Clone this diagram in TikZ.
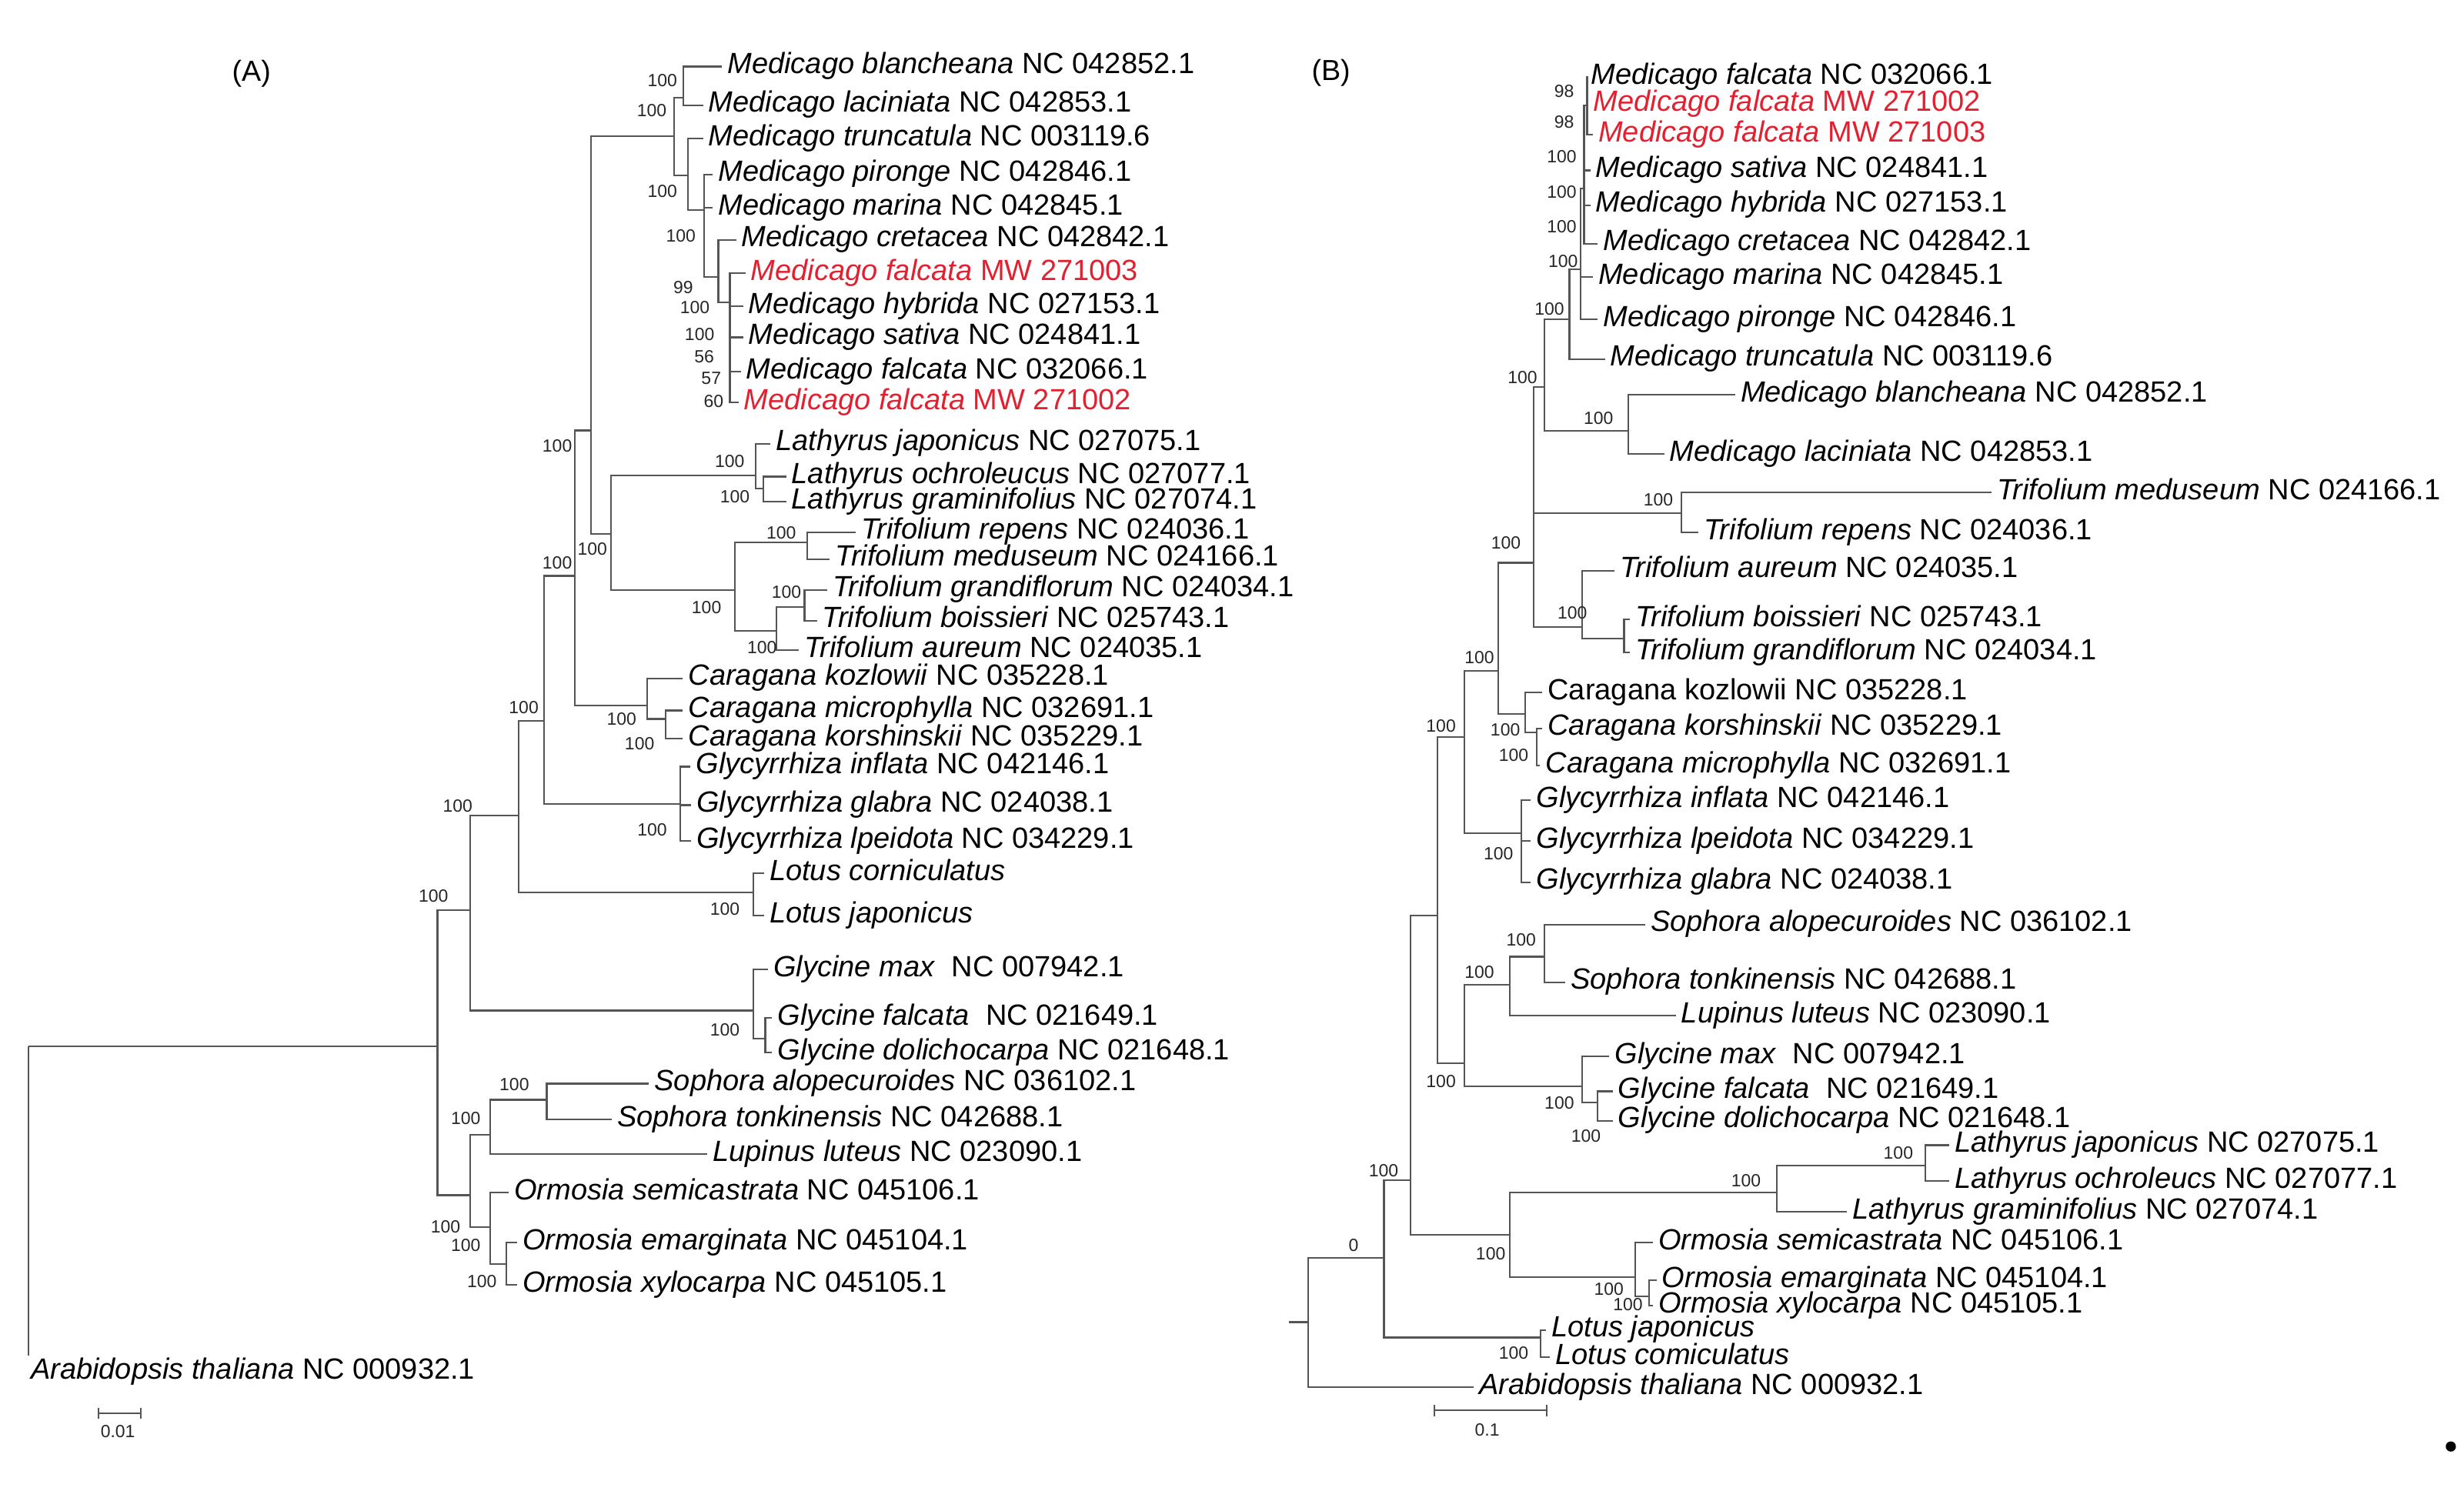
\documentclass[tikz,border=0pt]{standalone}
\usepackage{fontspec}
\setmainfont{Liberation Sans}
\usepackage{xcolor}
\usetikzlibrary{arrows.meta}
\definecolor{brgray}{RGB}{85,85,85}
\definecolor{mwred}{RGB}{226,32,48}
\newcommand{\taxon}[2]{\textit{#1} #2}
\tikzset{
  br/.style={draw=brgray, line width=0.6pt},
  leaf/.style={anchor=west, inner xsep=2pt, inner ysep=0pt, outer sep=0pt, xshift=-2pt,
    font=\fontsize{10.6}{12}\selectfont, text height=6.5pt, text depth=1.4pt},
  leafred/.style={leaf, text=mwred},
  bs/.style={inner sep=0pt, font=\fontsize{6.4}{7}\selectfont, text=black!85},
  panel/.style={inner sep=0pt, font=\fontsize{10.5}{12}\selectfont},
}
\begin{document}
\begin{tikzpicture}[x=0.02cm, y=-0.02cm]
\useasboundingbox (0,0) rectangle (1568,949);

%%%%%%%%%%%%%%%% tree (A)
\node [panel] (labA) at (160,47) {(A)};
% leaves
\node [leaf] (aMbl) at (463,42.4) {\taxon{Medicago blancheana}{NC 042852.1}};
\node [leaf] (aMla) at (450.9,66.9) {\taxon{Medicago laciniata}{NC 042853.1}};
\node [leaf] (aMtr) at (450.9,88.2) {\taxon{Medicago truncatula}{NC 003119.6}};
\node [leaf] (aMpi) at (457.1,111) {\taxon{Medicago pironge}{NC 042846.1}};
\node [leaf] (aMma) at (457.1,132.2) {\taxon{Medicago marina}{NC 042845.1}};
\node [leaf] (aMcr) at (471.9,152.6) {\taxon{Medicago cretacea}{NC 042842.1}};
\node [leafred] (aMw3) at (477.9,173.8) {\taxon{Medicago falcata}{MW 271003}};
\node [leaf] (aMhy) at (476.4,195.1) {\taxon{Medicago hybrida}{NC 027153.1}};
\node [leaf] (aMsa) at (476.4,214.7) {\taxon{Medicago sativa}{NC 024841.1}};
\node [leaf] (aMfa) at (474.9,236.7) {\taxon{Medicago falcata}{NC 032066.1}};
\node [leafred] (aMw2) at (473.4,256.3) {\taxon{Medicago falcata}{MW 271002}};
\node [leaf] (aLja) at (493.9,282.4) {\taxon{Lathyrus japonicus}{NC 027075.1}};
\node [leaf] (aLoc) at (503.8,303.4) {\taxon{Lathyrus ochroleucus}{NC 027077.1}};
\node [leaf] (aLgr) at (503.8,319.4) {\taxon{Lathyrus graminifolius}{NC 027074.1}};
\node [leaf] (aTre) at (548,338.7) {\taxon{Trifolium repens}{NC 024036.1}};
\node [leaf] (aTme) at (531.6,355.9) {\taxon{Trifolium meduseum}{NC 024166.1}};
\node [leaf] (aTgr) at (529.9,375.5) {\taxon{Trifolium grandiflorum}{NC 024034.1}};
\node [leaf] (aTbo) at (523.4,395.1) {\taxon{Trifolium boissieri}{NC 025743.1}};
\node [leaf] (aTau) at (511.9,413.9) {\taxon{Trifolium aureum}{NC 024035.1}};
\node [leaf] (aCko) at (438.1,431.8) {\taxon{Caragana kozlowii}{NC 035228.1}};
\node [leaf] (aCmi) at (438.1,452.2) {\taxon{Caragana microphylla}{NC 032691.1}};
\node [leaf] (aCks) at (438.1,470.1) {\taxon{Caragana korshinskii}{NC 035229.1}};
\node [leaf] (aGin) at (443,488) {\taxon{Glycyrrhiza inflata}{NC 042146.1}};
\node [leaf] (aGgl) at (443.3,512.5) {\taxon{Glycyrrhiza glabra}{NC 024038.1}};
\node [leaf] (aGlp) at (443.3,535.4) {\taxon{Glycyrrhiza lpeidota}{NC 034229.1}};
\node [leaf] (aLtc) at (489.7,555.8) {\textit{Lotus corniculatus}};
\node [leaf] (aLtj) at (489.7,582.8) {\textit{Lotus japonicus}};
\node [leaf] (aYma) at (492.3,617) {\taxon{Glycine max}{\ NC 007942.1}};
\node [leaf] (aYfa) at (494.8,648) {\taxon{Glycine falcata}{\ NC 021649.1}};
\node [leaf] (aYdo) at (494.8,670) {\taxon{Glycine dolichocarpa}{NC 021648.1}};
\node [leaf] (aSal) at (416.5,689.7) {\taxon{Sophora alopecuroides}{NC 036102.1}};
\node [leaf] (aSto) at (392.8,712.5) {\taxon{Sophora tonkinensis}{NC 042688.1}};
\node [leaf] (aLup) at (453.6,734.6) {\taxon{Lupinus luteus}{NC 023090.1}};
\node [leaf] (aOse) at (327.3,759) {\taxon{Ormosia semicastrata}{NC 045106.1}};
\node [leaf] (aOem) at (332.5,790.9) {\taxon{Ormosia emarginata}{NC 045104.1}};
\node [leaf] (aOxy) at (332.5,817.8) {\taxon{Ormosia xylocarpa}{NC 045105.1}};
\node [leaf] (aAra) at (19.6,873.3) {\taxon{Arabidopsis thaliana}{NC 000932.1}};
% inner nodes
\coordinate (aRoot) at (18,666);
\coordinate (aIn) at (278.4,666);
\coordinate (aN1) at (299,579.5);
\coordinate (aN2) at (330,519.1);
\coordinate (aN3) at (346.3,458.7);
\coordinate (aN4) at (366,366.5);
\coordinate (aN5) at (376,274);
\coordinate (aMed) at (429,86.5);
\coordinate (aMbc) at (434.8,62);
\coordinate (aMrs) at (437.8,111.8);
\coordinate (aMpm) at (448.2,133.8);
\coordinate (aMcc) at (457.1,176.3);
\coordinate (aMfc) at (464.5,192.6);
\coordinate (aLT) at (388.9,340);
\coordinate (aLat) at (480.8,302.8);
\coordinate (aLat2) at (485.7,311);
\coordinate (aTri) at (467.7,375.5);
\coordinate (aTri1) at (513.6,345.2);
\coordinate (aTri2) at (493.9,401.6);
\coordinate (aTri3) at (512,386.4);
\coordinate (aCar) at (411.9,448.9);
\coordinate (aCar2) at (423.4,457.6);
\coordinate (aGlz) at (433,511.8);
\coordinate (aLot) at (479.4,568.1);
\coordinate (aGly) at (479.4,643.2);
\coordinate (aGly2) at (487,661.1);
\coordinate (aN6) at (299,760.7);
\coordinate (aN7) at (311.9,722.3);
\coordinate (aSop) at (347.9,700);
\coordinate (aOrm) at (311.9,781.1);
\coordinate (aOrm2) at (322.2,804.7);
% branches
\draw [br] (aRoot) -- (aIn);                      % ingroup stem
\draw [br] (aRoot) -- ([yshift=2pt]aRoot |- aAra.north); % outgroup
\draw [br] (aIn) |- (aN1);  \draw [br] (aIn) |- (aN6);
\draw [br] (aN1) |- (aN2);  \draw [br] (aN1) |- (aGly);
\draw [br] (aN2) |- (aN3);  \draw [br] (aN2) |- (aLot);
\draw [br] (aN3) |- (aN4);  \draw [br] (aN3) |- (aGlz);
\draw [br] (aN4) |- (aN5);  \draw [br] (aN4) |- (aCar);
\draw [br] (aN5) |- (aMed); \draw [br] (aN5) |- (aLT);
\draw [br] (aMed) |- (aMbc); \draw [br] (aMed) |- (aMrs);
\draw [br] (aMbc) |- (aMbl); \draw [br] (aMbc) |- (aMla);
\draw [br] (aMrs) |- (aMtr); \draw [br] (aMrs) |- (aMpm);
\draw [br] (aMpm) |- (aMpi); \draw [br] (aMpm) |- (aMma); \draw [br] (aMpm) |- (aMcc);
\draw [br] (aMcc) |- (aMcr); \draw [br] (aMcc) |- (aMfc);
\draw [br] (aMfc) |- (aMw3); \draw [br] (aMfc) |- (aMhy); \draw [br] (aMfc) |- (aMsa);
\draw [br] (aMfc) |- (aMfa); \draw [br] (aMfc) |- (aMw2);
\draw [br] (aLT) |- (aLat); \draw [br] (aLT) |- (aTri);
\draw [br] (aLat) |- (aLja); \draw [br] (aLat) |- (aLat2);
\draw [br] (aLat2) |- (aLoc); \draw [br] (aLat2) |- (aLgr);
\draw [br] (aTri) |- (aTri1); \draw [br] (aTri) |- (aTri2);
\draw [br] (aTri1) |- (aTre); \draw [br] (aTri1) |- (aTme);
\draw [br] (aTri2) |- (aTri3); \draw [br] (aTri2) |- (aTau);
\draw [br] (aTri3) |- (aTgr); \draw [br] (aTri3) |- (aTbo);
\draw [br] (aCar) |- (aCko); \draw [br] (aCar) |- (aCar2);
\draw [br] (aCar2) |- (aCmi); \draw [br] (aCar2) |- (aCks);
\draw [br] (aGlz) |- (aGin); \draw [br] (aGlz) |- (aGgl); \draw [br] (aGlz) |- (aGlp);
\draw [br] (aLot) |- (aLtc); \draw [br] (aLot) |- (aLtj);
\draw [br] (aGly) |- (aYma); \draw [br] (aGly) |- (aGly2);
\draw [br] (aGly2) |- (aYfa); \draw [br] (aGly2) |- (aYdo);
\draw [br] (aN6) |- (aN7);  \draw [br] (aN6) |- (aOrm);
\draw [br] (aN7) |- (aSop); \draw [br] (aN7) |- (aLup);
\draw [br] (aSop) |- (aSal); \draw [br] (aSop) |- (aSto);
\draw [br] (aOrm) |- (aOse); \draw [br] (aOrm) |- (aOrm2);
\draw [br] (aOrm2) |- (aOem); \draw [br] (aOrm2) |- (aOxy);
% bootstrap values
\node [bs] (aS1) at (421.5,51.4) {100};
\node [bs] (aS2) at (414.8,70.2) {100};
\node [bs] (aS3) at (421.5,121.6) {100};
\node [bs] (aS4) at (433.3,150.2) {100};
\node [bs] (aS5) at (434.8,182.8) {99};
\node [bs] (aS6) at (442.2,195.9) {100};
\node [bs] (aS7) at (445.2,213) {100};
\node [bs] (aS8) at (448.1,226.9) {56};
\node [bs] (aS9) at (452.6,240.8) {57};
\node [bs] (aS10) at (454.1,255.5) {60};
\node [bs] (aS11) at (354.6,284) {100};
\node [bs] (aS12) at (464.4,293.8) {100};
\node [bs] (aS13) at (467.7,315.9) {100};
\node [bs] (aS14) at (497.2,339.4) {100};
\node [bs] (aS15) at (376.9,349.4) {100};
\node [bs] (aS16) at (354.6,358.1) {100};
\node [bs] (aS17) at (500.5,377) {100};
\node [bs] (aS18) at (449.6,386.8) {100};
\node [bs] (aS19) at (484.9,412.2) {100};
\node [bs] (aS20) at (333.3,450.5) {100};
\node [bs] (aS21) at (395.5,457.9) {100};
\node [bs] (aS22) at (407,473.4) {100};
\node [bs] (aS23) at (291.2,512.8) {100};
\node [bs] (aS24) at (415,528) {100};
\node [bs] (aS25) at (275.8,570.5) {100};
\node [bs] (aS26) at (461.3,578.6) {100};
\node [bs] (aS27) at (461.3,655.4) {100};
\node [bs] (aS28) at (327.3,690.5) {100};
\node [bs] (aS29) at (296.4,711.7) {100};
\node [bs] (aS30) at (283.5,781.1) {100};
\node [bs] (aS31) at (296.4,792.5) {100};
\node [bs] (aS32) at (306.7,815.4) {100};
% scale bar
\coordinate (aSb1) at (62,899.5);
\coordinate (aSb2) at (90,899.5);
\draw [br, {Bar[width=4pt]}-{Bar[width=4pt]}] (aSb1) -- (aSb2);
\node [bs] (aSbl) at (75,911) {0.01};

%%%%%%%%%%%%%%%% tree (B)
\node [panel] (labB) at (847,46.5) {(B)};
% leaves
\node [leaf] (bMfa) at (1012.6,49) {\taxon{Medicago falcata}{NC 032066.1}};
\node [leafred] (bMw2) at (1014.1,66.1) {\taxon{Medicago falcata}{MW 271002}};
\node [leafred] (bMw3) at (1017.2,85.7) {\taxon{Medicago falcata}{MW 271003}};
\node [leaf] (bMsa) at (1015.6,108.5) {\taxon{Medicago sativa}{NC 024841.1}};
\node [leaf] (bMhy) at (1015.6,130.6) {\taxon{Medicago hybrida}{NC 027153.1}};
\node [leaf] (bMcr) at (1020.3,155.1) {\taxon{Medicago cretacea}{NC 042842.1}};
\node [leaf] (bMma) at (1017.2,176.3) {\taxon{Medicago marina}{NC 042845.1}};
\node [leaf] (bMpi) at (1020.3,203.2) {\taxon{Medicago pironge}{NC 042846.1}};
\node [leaf] (bMtr) at (1024.9,228.5) {\taxon{Medicago truncatula}{NC 003119.6}};
\node [leaf] (bMbl) at (1107.7,251.4) {\taxon{Medicago blancheana}{NC 042852.1}};
\node [leaf] (bMla) at (1062.6,288.9) {\taxon{Medicago laciniata}{NC 042853.1}};
\node [leaf] (bTme) at (1270.9,313.4) {\taxon{Trifolium meduseum}{NC 024166.1}};
\node [leaf] (bTre) at (1084.4,339) {\taxon{Trifolium repens}{NC 024036.1}};
\node [leaf] (bTau) at (1031,363.2) {\taxon{Trifolium aureum}{NC 024035.1}};
\node [leaf] (bTbo) at (1040.8,394.2) {\taxon{Trifolium boissieri}{NC 025743.1}};
\node [leaf] (bTgr) at (1040.8,415.4) {\taxon{Trifolium grandiflorum}{NC 024034.1}};
\node [leaf] (bCko) at (985,440.7) {Caragana kozlowii NC 035228.1};
\node [leaf] (bCks) at (985,463.6) {\taxon{Caragana korshinskii}{NC 035229.1}};
\node [leaf] (bCmi) at (983.6,487.3) {\taxon{Caragana microphylla}{NC 032691.1}};
\node [leaf] (bGin) at (977.7,509.3) {\taxon{Glycyrrhiza inflata}{NC 042146.1}};
\node [leaf] (bGlp) at (977.7,535.4) {\taxon{Glycyrrhiza lpeidota}{NC 034229.1}};
\node [leaf] (bGgl) at (977.7,561.6) {\taxon{Glycyrrhiza glabra}{NC 024038.1}};
\node [leaf] (bSal) at (1050.4,588.5) {\taxon{Sophora alopecuroides}{NC 036102.1}};
\node [leaf] (bSto) at (999.5,625.2) {\taxon{Sophora tonkinensis}{NC 042688.1}};
\node [leaf] (bLup) at (1069.9,646.4) {\taxon{Lupinus luteus}{NC 023090.1}};
\node [leaf] (bYma) at (1027.6,672.5) {\taxon{Glycine max}{\ NC 007942.1}};
\node [leaf] (bYfa) at (1029.7,694.6) {\taxon{Glycine falcata}{\ NC 021649.1}};
\node [leaf] (bYdo) at (1029.7,713.3) {\taxon{Glycine dolichocarpa}{NC 021648.1}};
\node [leaf] (bLja) at (1244,728.9) {\taxon{Lathyrus japonicus}{NC 027075.1}};
\node [leaf] (bLoc) at (1244,751.7) {\taxon{Lathyrus ochroleucs}{NC 027077.1}};
\node [leaf] (bLgr) at (1179,771.3) {\taxon{Lathyrus graminifolius}{NC 027074.1}};
\node [leaf] (bOse) at (1055.3,790.8) {\taxon{Ormosia semicastrata}{NC 045106.1}};
\node [leaf] (bOem) at (1057.7,815) {\taxon{Ormosia emarginata}{NC 045104.1}};
\node [leaf] (bOxy) at (1055.3,831) {\taxon{Ormosia xylocarpa}{NC 045105.1}};
\node [leaf] (bLtj) at (987.4,846.6) {\textit{Lotus japonicus}};
\node [leaf] (bLtc) at (989.8,863.8) {\textit{Lotus comiculatus}};
\node [leaf] (bAra) at (941.4,883) {\taxon{Arabidopsis thaliana}{NC 000932.1}};
% inner nodes
\coordinate (bStub) at (820.2,841.5);
\coordinate (bRoot) at (832.3,841.5);
\coordinate (bJ) at (880.7,800.7);
\coordinate (bI) at (897.7,751);
\coordinate (bH) at (914.7,582.8);
\coordinate (bG) at (931.7,469.3);
\coordinate (bTC) at (953.5,426.9);
\coordinate (bT) at (976,358.2);
\coordinate (bM5) at (983,246.5);
\coordinate (bM4) at (998.7,203.2);
\coordinate (bM3) at (1006,171.4);
\coordinate (bM2) at (1008,120);
\coordinate (bM1) at (1010,67);
\coordinate (bBL) at (1036,274.2);
\coordinate (bTM) at (1069.9,326.5);
\coordinate (bTA) at (1006.8,399.1);
\coordinate (bTB) at (1033.5,406.4);
\coordinate (bCA) at (970.4,454.6);
\coordinate (bCB) at (977.7,466);
\coordinate (bGZ) at (968,530.5);
\coordinate (bSG) at (931.7,676.6);
\coordinate (bSL) at (960.8,626.8);
\coordinate (bSO) at (982.6,608.9);
\coordinate (bGY) at (1006.8,691.3);
\coordinate (bGY2) at (1016.5,701.9);
\coordinate (bLO) at (960.8,785.9);
\coordinate (bLA) at (1130.5,759);
\coordinate (bLA2) at (1225,741.9);
\coordinate (bOR) at (1040.7,812.9);
\coordinate (bOR2) at (1049.5,825.1);
\coordinate (bLT) at (980.2,851.3);
% branches
\draw [br] (bStub) -- (bRoot);                    % root stub
\draw [br] (bRoot) |- (bJ);  \draw [br] (bRoot) |- (bAra);
\draw [br] (bJ) |- (bI);     \draw [br] (bJ) |- (bLT);
\draw [br] (bI) |- (bH);     \draw [br] (bI) |- (bLO);
\draw [br] (bH) |- (bG);     \draw [br] (bH) |- (bSG);
\draw [br] (bG) |- (bTC);    \draw [br] (bG) |- (bGZ);
\draw [br] (bTC) |- (bT);    \draw [br] (bTC) |- (bCA);
\draw [br] (bT) |- (bM5);    \draw [br] (bT) |- (bTM);  \draw [br] (bT) |- (bTA);
\draw [br] (bM5) |- (bM4);   \draw [br] (bM5) |- (bBL);
\draw [br] (bM4) |- (bM3);   \draw [br] (bM4) |- (bMtr);
\draw [br] (bM3) |- (bM2);   \draw [br] (bM3) |- (bMma); \draw [br] (bM3) |- (bMpi);
\draw [br] (bM2) |- (bM1);   \draw [br] (bM2) |- (bMsa); \draw [br] (bM2) |- (bMhy);
\draw [br] (bM2) |- (bMcr);
\draw [br] (bM1) |- (bMfa);  \draw [br] (bM1) |- (bMw2); \draw [br] (bM1) |- (bMw3);
\draw [br] (bBL) |- (bMbl);  \draw [br] (bBL) |- (bMla);
\draw [br] (bTM) |- (bTme);  \draw [br] (bTM) |- (bTre);
\draw [br] (bTA) |- (bTau);  \draw [br] (bTA) |- (bTB);
\draw [br] (bTB) |- (bTbo);  \draw [br] (bTB) |- (bTgr);
\draw [br] (bCA) |- (bCko);  \draw [br] (bCA) |- (bCB);
\draw [br] (bCB) |- (bCks);  \draw [br] (bCB) |- (bCmi);
\draw [br] (bGZ) |- (bGin);  \draw [br] (bGZ) |- (bGlp); \draw [br] (bGZ) |- (bGgl);
\draw [br] (bSG) |- (bSL);   \draw [br] (bSG) |- (bGY);
\draw [br] (bSL) |- (bSO);   \draw [br] (bSL) |- (bLup);
\draw [br] (bSO) |- (bSal);  \draw [br] (bSO) |- (bSto);
\draw [br] (bGY) |- (bYma);  \draw [br] (bGY) |- (bGY2);
\draw [br] (bGY2) |- (bYfa); \draw [br] (bGY2) |- (bYdo);
\draw [br] (bLO) |- (bLA);   \draw [br] (bLO) |- (bOR);
\draw [br] (bLA) |- (bLA2);  \draw [br] (bLA) |- (bLgr);
\draw [br] (bLA2) |- (bLja); \draw [br] (bLA2) |- (bLoc);
\draw [br] (bOR) |- (bOse);  \draw [br] (bOR) |- (bOR2);
\draw [br] (bOR2) |- (bOem); \draw [br] (bOR2) |- (bOxy);
\draw [br] (bLT) |- (bLtj);  \draw [br] (bLT) |- (bLtc);
% bootstrap values
\node [bs] (bS1) at (995.4,57.9) {98};
\node [bs] (bS2) at (995.4,77.5) {98};
\node [bs] (bS3) at (993.8,99.6) {100};
\node [bs] (bS4) at (993.8,122.4) {100};
\node [bs] (bS5) at (993.8,144.5) {100};
\node [bs] (bS6) at (994.7,166.5) {100};
\node [bs] (bS7) at (986,196.7) {100};
\node [bs] (bS8) at (968.8,240) {100};
\node [bs] (bS9) at (1017.2,266.1) {100};
\node [bs] (bS10) at (1055.3,318.3) {100};
\node [bs] (bS11) at (958.3,345.3) {100};
\node [bs] (bS12) at (1000.6,390) {100};
\node [bs] (bS13) at (941.4,418.7) {100};
\node [bs] (bS14) at (917,462) {100};
\node [bs] (bS15) at (957.9,464.4) {100};
\node [bs] (bS16) at (963.2,480.7) {100};
\node [bs] (bS17) at (953.5,543.6) {100};
\node [bs] (bS18) at (968,598.3) {100};
\node [bs] (bS19) at (941.4,618.7) {100};
\node [bs] (bS20) at (917,688.1) {100};
\node [bs] (bS21) at (992.3,701.9) {100};
\node [bs] (bS22) at (1009.3,723.2) {100};
\node [bs] (bS23) at (1208,733.8) {100};
\node [bs] (bS24) at (880.5,745.2) {100};
\node [bs] (bS25) at (1111.1,751.7) {100};
\node [bs] (bS26) at (861.4,792.5) {0};
\node [bs] (bS27) at (948.6,798.2) {100};
\node [bs] (bS28) at (1023.8,820.5) {100};
\node [bs] (bS29) at (1035.9,830.5) {100};
\node [bs] (bS30) at (963.2,861.1) {100};
% scale bar
\coordinate (bSb1) at (912.3,897.8);
\coordinate (bSb2) at (985,897.8);
\draw [br, {Bar[width=4pt]}-{Bar[width=4pt]}] (bSb1) -- (bSb2);
\node [bs] (bSbl) at (946.4,910) {0.1};

\node [circle, fill=black, inner sep=0pt, minimum size=0.13cm] (dot) at (1559.6,920.7) {};
\end{tikzpicture}
\end{document}
